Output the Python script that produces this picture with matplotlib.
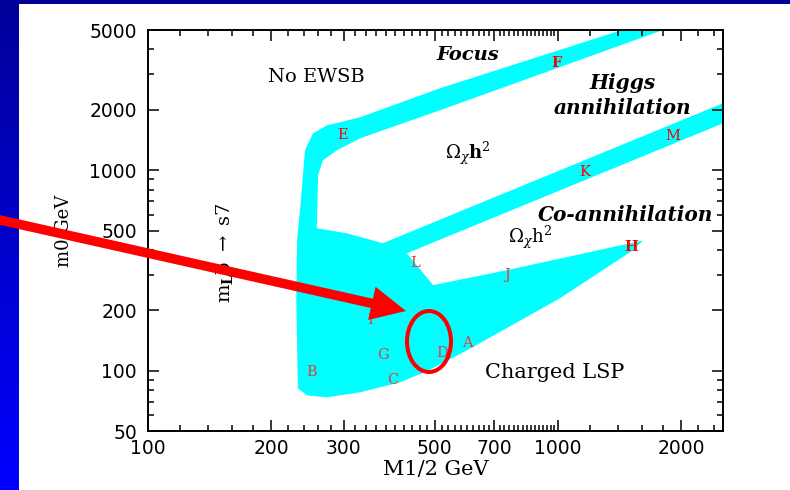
"""
mSUGRA benchmark plane (m0 vs M1/2) with slide annotation
"""

import matplotlib
matplotlib.use("Agg")
import matplotlib.pyplot as plt
import numpy as np
from matplotlib.colors import LinearSegmentedColormap
from matplotlib.patches import Rectangle, FancyArrow, Ellipse
from matplotlib.ticker import FixedLocator, FixedFormatter, NullFormatter

plt.rcParams["mathtext.fontset"] = "dejavuserif"

# outline of the allowed (cyan) region
m_half = [244, 232, 230, 231, 236, 241.5, 252.6, 273.4, 328.9, 515.5, 1432, 1804,
          515.5, 328.9, 289, 267, 260, 258, 306, 374, 645, 2700, 2700, 428, 496,
          751, 1612, 1524, 1011, 600, 479, 412, 329, 273]
m_zero = [75.3, 81.7, 224, 447, 708, 1256, 1526, 1673, 1834, 2561, 5000, 5000,
          1989, 1441, 1256, 1120, 943, 513, 484, 432, 684, 2280, 1810, 385, 267,
          317, 446, 398.5, 229.5, 126.3, 99.3, 87.5, 78, 73.6]

# benchmark points
pt_names = ["E", "F", "M", "K", "H", "L", "J", "I", "G", "D", "A", "B", "C"]
pt_x = [299, 994, 1908, 1164, 1507, 448, 751, 348, 374, 521, 600, 251, 396]
pt_y = [1492, 3411, 1475, 976, 412, 343, 299, 178, 119, 123, 137, 98, 89.5]
strong = {"F", "H", "M", "K", "E"}

x_major = [100, 200, 300, 500, 700, 1000, 2000]
x_minor = [v for v in list(range(120, 1000, 20)) + list(range(1200, 2600, 200))
           if v not in x_major]
y_major = [50, 100, 200, 500, 1000, 2000, 5000]
y_minor = [60, 70, 80, 90, 300, 400, 600, 700, 800, 900, 3000, 4000]

fig = plt.figure(figsize=(7.9, 4.9), dpi=100)
fig.patch.set_facecolor("white")

# slide background strips
bg = fig.add_axes([0, 0, 1, 1], zorder=-10)
bg.set_xlim(0, 790)
bg.set_ylim(490, 0)
bg.axis("off")
blue = LinearSegmentedColormap.from_list("slide", ["#000099", "#0000ff"])
bg.imshow(np.linspace(0, 1, 256).reshape(-1, 1), extent=(0, 19, 490, 0),
          aspect="auto", cmap=blue)
bg.add_patch(Rectangle((0, 0), 790, 4, color="#000099", lw=0))

ax = fig.add_axes([148 / 790, 1 - 431 / 490, 575 / 790, 401 / 490])
ax.set_xscale("log")
ax.set_yscale("log")
ax.set_xlim(100, 2526)
ax.set_ylim(50, 5000)
ax.fill(m_half, m_zero, color="#00ffff", lw=0, zorder=1)

ax.xaxis.set_major_locator(FixedLocator(x_major))
ax.xaxis.set_major_formatter(FixedFormatter([str(v) for v in x_major]))
ax.xaxis.set_minor_locator(FixedLocator(x_minor))
ax.xaxis.set_minor_formatter(NullFormatter())
ax.yaxis.set_major_locator(FixedLocator(y_major))
ax.yaxis.set_major_formatter(FixedFormatter([str(v) for v in y_major]))
ax.yaxis.set_minor_locator(FixedLocator(y_minor))
ax.yaxis.set_minor_formatter(NullFormatter())
ax.tick_params(which="both", direction="in", top=True, right=True, width=1.1)
ax.tick_params(which="major", length=8, pad=8, labelsize=13.5)
ax.tick_params(which="minor", length=4)
ax.tick_params(axis="x", which="major", pad=6)
for s in ax.spines.values():
    s.set_linewidth(1.4)

ax.set_xlabel("M1/2 GeV", family="DejaVu Serif", fontsize=15)
ax.xaxis.set_label_coords(0.5, -0.072)
ax.set_ylabel("m0 GeV", family="DejaVu Serif", fontsize=13)
ax.yaxis.set_label_coords(-0.13, 0.5)

serif = dict(family="DejaVu Serif", ha="center", va="center", zorder=3)
ax.text(257, 2905, "No EWSB", fontsize=14, **serif)
ax.text(603, 3739, "Focus", fontsize=14, style="italic", weight="bold", **serif)
ax.text(1440, 2712, "Higgs", fontsize=14.5, style="italic", weight="bold", **serif)
ax.text(1440, 2035, "annihilation", fontsize=14.5, style="italic", weight="bold", **serif)
ax.text(1457, 595, "Co-annihilation", fontsize=14.5, style="italic", weight="bold", **serif)
ax.text(603, 1213, r"$\Omega_\chi\mathbf{h}^2$", fontsize=13, **serif)
ax.text(855, 462, r"$\Omega_\chi\mathrm{h}^2$", fontsize=13, **serif)
ax.text(983, 98, "Charged LSP", fontsize=15, **serif)
ax.text(154, 389, r"$\mathrm{m}_{\mathbf{L}}\mathrm{b}\ \rightarrow\ \mathrm{s7}$",
        fontsize=14, rotation=90, **serif)

for name, x, y in zip(pt_names, pt_x, pt_y):
    bold = name in ("F", "H")
    ax.text(x, y, name, fontsize=10.5, weight="bold" if bold else "normal",
            color="#ff0000" if name in strong else "#e04040", **serif)

# slide annotation on top
ov = fig.add_axes([0, 0, 1, 1], zorder=10)
ov.set_xlim(0, 790)
ov.set_ylim(490, 0)
ov.axis("off")
ov.patch.set_alpha(0)
ov.add_patch(FancyArrow(-2, 219.5, 408, 91.5, width=9.5, head_width=34,
                        head_length=35, length_includes_head=True,
                        color="#ff0000", lw=0))
ov.add_patch(Ellipse((429, 341.5), 44, 61, fill=False, ec="#ff0000", lw=2.9))

fig.savefig("out.png", dpi=100)
